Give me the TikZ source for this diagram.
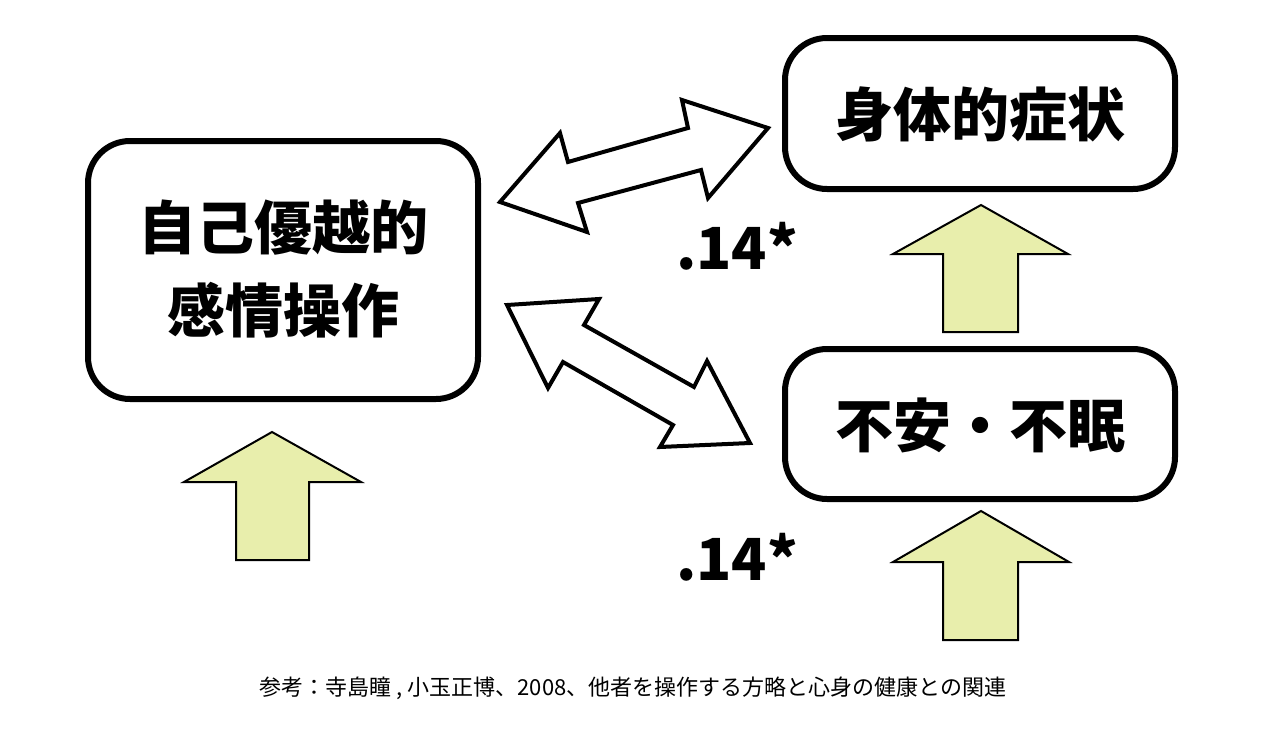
\documentclass[tikz,border=0pt]{standalone}
\usepackage{fontspec}
\newfontfamily\cjk{Noto Sans CJK JP}
\definecolor{arrowfill}{RGB}{232,238,172}
\begin{document}
\begin{tikzpicture}[x=1pt,y=-1pt,
  box/.style={draw=black,line width=6pt,rounded corners=42pt,fill=white},
  big/.style={font=\cjk\bfseries\fontsize{58}{70}\selectfont,text=black},
  dbl/.style={draw=black,line width=4pt,fill=white,line join=miter},
  up/.style={draw=black,line width=2pt,fill=arrowfill,line join=miter},
  captext/.style={font=\cjk\fontsize{22}{26}\selectfont}]
\useasboundingbox (0,0) rectangle (1264,739);
\fill[white] (0,0) rectangle (1264,739);
% boxes
\draw[box] (88,141) rectangle (478,399);
\draw[box] (785,38) rectangle (1175,189);
\draw[box] (785,349) rectangle (1175,499);
\node[big] (self1) at (283,228) {自己優越的};
\node[big] (self2) at (283,310) {感情操作};
\node[big] (body) at (980,114) {身体的症状};
\node[big] (anx) at (980,425) {不安・不眠};
% double arrows
\draw[dbl] (500,202) -- (560,133) -- (568,162) -- (688,128) -- (682,100) -- (768,128)
  -- (708,198) -- (701,170) -- (578,203) -- (587,232) -- cycle;
\draw[dbl] (507,305) -- (599,299) -- (584,325) -- (694,387) -- (707,361) -- (750,443)
  -- (660,447) -- (673,425) -- (563,362) -- (548,388) -- cycle;
% coefficients
\node[big] (c1) at (737,246) {.14*};
\node[big] (c2) at (737,557) {.14*};
% up arrows
\draw[up] (272,432) -- (361,482) -- (309,482) -- (309,560) -- (236,560) -- (236,482) -- (184,482) -- cycle;
\draw[up] (981,205) -- (1068,254) -- (1018,254) -- (1018,332) -- (943,332) -- (943,254) -- (893,254) -- cycle;
\draw[up] (981,511) -- (1069,562) -- (1018,562) -- (1018,640) -- (943,640) -- (943,562) -- (893,562) -- cycle;
% caption
\node[captext] (ref) at (633,688) {参考：寺島瞳 , 小玉正博、2008、他者を操作する方略と心身の健康との関連};
\end{tikzpicture}
\end{document}
